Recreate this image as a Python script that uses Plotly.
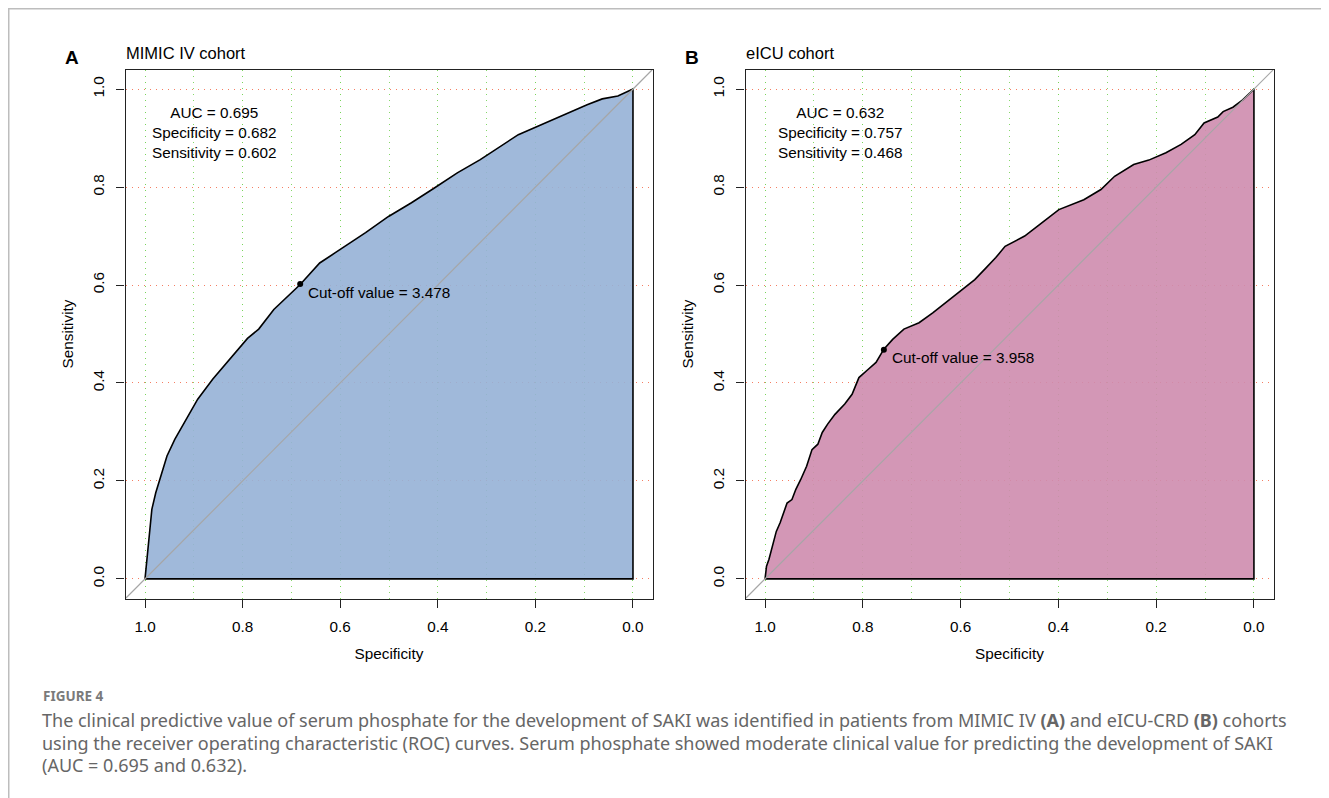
import plotly.graph_objects as go

# The page body has an 8px margin, so the figure is placed at (8, 8) in the window.
OFF = 8
W, H = 1329 - OFF, 798 - OFF


def px(x):
    return (x - OFF) / W


def py(y):
    return 1 - (y - OFF) / H


# ---------------- data ----------------
mimic_spec = [1.000, 0.997, 0.992, 0.986, 0.978, 0.966, 0.955, 0.939, 0.915, 0.892,
              0.861, 0.829, 0.798, 0.790, 0.767, 0.736, 0.682, 0.642, 0.610, 0.579,
              0.548, 0.501, 0.454, 0.407, 0.360, 0.313, 0.282, 0.235, 0.188, 0.141,
              0.094, 0.063, 0.031, 0.000]
mimic_sens = [0.000, 0.033, 0.087, 0.142, 0.176, 0.217, 0.251, 0.285, 0.326, 0.367,
              0.408, 0.445, 0.483, 0.491, 0.510, 0.550, 0.601, 0.645, 0.666, 0.686,
              0.707, 0.740, 0.768, 0.798, 0.829, 0.856, 0.876, 0.907, 0.927, 0.948,
              0.968, 0.980, 0.986, 1.000]

eicu_spec = [1.000, 0.997, 0.992, 0.987, 0.982, 0.977, 0.969, 0.962, 0.955, 0.945,
             0.937, 0.927, 0.915, 0.904, 0.892, 0.883, 0.872, 0.857, 0.837, 0.822,
             0.808, 0.790, 0.773, 0.757, 0.739, 0.716, 0.685, 0.657, 0.626, 0.595,
             0.571, 0.548, 0.528, 0.509, 0.469, 0.430, 0.399, 0.348, 0.313, 0.285,
             0.246, 0.215, 0.180, 0.149, 0.121, 0.102, 0.074, 0.063, 0.043, 0.023,
             0.008, 0.000]
eicu_sens = [0.000, 0.026, 0.040, 0.060, 0.080, 0.097, 0.115, 0.135, 0.155, 0.162,
             0.183, 0.203, 0.230, 0.264, 0.275, 0.299, 0.316, 0.336, 0.357, 0.377,
             0.411, 0.427, 0.442, 0.469, 0.489, 0.510, 0.523, 0.543, 0.567, 0.591,
             0.611, 0.635, 0.656, 0.679, 0.700, 0.730, 0.754, 0.774, 0.795, 0.822,
             0.846, 0.855, 0.870, 0.887, 0.907, 0.931, 0.943, 0.954, 0.963, 0.978,
             0.992, 1.000]

panels = [
    dict(letter="A", title="MIMIC IV cohort", spec=mimic_spec, sens=mimic_sens,
         auc=0.695, cut_spec=0.682, cut_sens=0.602, cutoff=3.478,
         fill="rgba(150,177,214,0.9)"),
    dict(letter="B", title="eICU cohort", spec=eicu_spec, sens=eicu_sens,
         auc=0.632, cut_spec=0.757, cut_sens=0.468, cutoff=3.958,
         fill="rgba(206,140,174,0.9)"),
]

x_ticks = [1.0, 0.8, 0.6, 0.4, 0.2, 0.0]
y_ticks = [0.0, 0.2, 0.4, 0.6, 0.8, 1.0]

caption_head = "FIGURE 4"
caption_lines = [
    "The clinical predictive value of serum phosphate for the development of SAKI was identified in patients from MIMIC IV <b>(A)</b> and eICU-CRD <b>(B)</b> cohorts",
    "using the receiver operating characteristic (ROC) curves. Serum phosphate showed moderate clinical value for predicting the development of SAKI",
    "(AUC = 0.695 and 0.632).",
]

# ---------------- layout geometry (window pixels) ----------------
FONT = "Liberation Sans, Arial, sans-serif"
FS = 15.3
boxes = [(125.5, 652.5), (745.5, 1273.5)]
box_top, box_bot = 69.5, 598.5
XR = [1.04, -0.04]
YR = [-0.04, 1.04]
GREEN = "rgba(120,212,90,0.9)"
RED = "rgba(244,112,82,0.9)"
DOT = "1.5px,4.5px"

fig = go.Figure()
layout = dict(
    width=W, height=H, margin=dict(l=0, r=0, t=0, b=0),
    paper_bgcolor="white", plot_bgcolor="white",
    showlegend=False, font=dict(family=FONT, size=FS, color="black"),
    annotations=[], shapes=[],
)

for i, p in enumerate(panels):
    n = "" if i == 0 else str(i + 1)
    xa, ya = "x" + n, "y" + n
    x0, x1 = boxes[i]
    axis_common = dict(
        showline=True, mirror=True, linecolor="#222", linewidth=1.4,
        ticks="outside", ticklen=8, tickwidth=1.2, tickcolor="#222",
        zeroline=False, showgrid=True, griddash=DOT, gridwidth=1.3,
        tickfont=dict(family=FONT, size=FS, color="black"),
    )
    layout["xaxis" + n] = dict(
        axis_common, domain=[px(x0), px(x1)], range=XR, anchor=ya,
        tickvals=x_ticks, ticktext=[f"{v:.1f}" for v in x_ticks],
        gridcolor=GREEN,
        minor=dict(dtick=0.1, tick0=0, showgrid=True, griddash=DOT,
                   gridcolor=GREEN, gridwidth=1.3, ticks=""),
        ticklabelstandoff=6,
        title=dict(text="Specificity", font=dict(family=FONT, size=FS), standoff=14),
    )
    layout["yaxis" + n] = dict(
        axis_common, domain=[py(box_bot), py(box_top)], range=YR, anchor=xa,
        tickvals=y_ticks, ticktext=[f"{v:.1f}" for v in y_ticks], tickangle=-90,
        gridcolor=RED,
        ticklabelstandoff=6,
        title=dict(text="Sensitivity", font=dict(family=FONT, size=FS), standoff=12),
    )

    # AUC polygon (curve + closing edges along sens=0 and spec=0)
    fig.add_trace(go.Scatter(
        x=p["spec"] + [0.0, 1.0], y=p["sens"] + [0.0, 0.0],
        mode="lines", fill="toself", fillcolor=p["fill"],
        line=dict(color="black", width=1.6), xaxis=xa, yaxis=ya, hoverinfo="skip"))
    # identity line across the whole frame
    fig.add_trace(go.Scatter(
        x=XR, y=[1 - v for v in XR], mode="lines",
        line=dict(color="#a6a6a6", width=1.2), xaxis=xa, yaxis=ya, hoverinfo="skip"))
    # cut-off point
    fig.add_trace(go.Scatter(
        x=[p["cut_spec"]], y=[p["cut_sens"]], mode="markers",
        marker=dict(color="black", size=6), xaxis=xa, yaxis=ya))

    # texts
    layout["annotations"] += [
        dict(text=f"Cut-off value = {p['cutoff']:.3f}", x=p["cut_spec"], y=p["cut_sens"],
             xref=xa, yref=ya, xanchor="left", yanchor="middle", showarrow=False,
             xshift=6, yshift=-8, font=dict(family=FONT, size=FS)),
        dict(text=f"AUC = {p['auc']:.3f}<br>Specificity = {p['cut_spec']:.3f}<br>Sensitivity = {p['cut_sens']:.3f}",
             x=px(x0 + 88.5 + (0 if i == 0 else 6)), y=py(133), xref="paper", yref="paper",
             xanchor="center", yanchor="middle", showarrow=False, align="center",
             font=dict(family=FONT, size=FS)),
        dict(text=p["title"], x=px(x0 - 2), y=py(53), xref="paper", yref="paper",
             xanchor="left", yanchor="middle", showarrow=False,
             font=dict(family=FONT, size=16.5)),
        dict(text=f"<b>{p['letter']}</b>", x=px(x0 - 53.5), y=py(57),
             xref="paper", yref="paper", xanchor="center", yanchor="middle",
             showarrow=False, font=dict(family=FONT, size=19)),
    ]

# caption
CAP_FONT = "Noto Sans, Open Sans, sans-serif"
layout["annotations"].append(dict(
    text=f"<b>{caption_head}</b>", x=px(41), y=py(696), xref="paper", yref="paper",
    xanchor="left", yanchor="middle", showarrow=False,
    font=dict(family=CAP_FONT, size=13.5, color="#7a7a7a")))
for k, line in enumerate(caption_lines):
    layout["annotations"].append(dict(
        text=line, x=px(40), y=py(720 + 22.5 * k), xref="paper", yref="paper",
        xanchor="left", yanchor="middle", showarrow=False,
        font=dict(family=CAP_FONT, size=18, color="#666666")))

# frame lines of the figure panel (top and left edge)
layout["shapes"] += [
    dict(type="line", xref="paper", yref="paper", x0=0, x1=1, y0=py(8.75), y1=py(8.75),
         line=dict(color="#bdbdbd", width=1.5)),
    dict(type="line", xref="paper", yref="paper", x0=px(8.75), x1=px(8.75), y0=0, y1=1,
         line=dict(color="#bdbdbd", width=1.5)),
]

fig.update_layout(**layout)
fig.write_html("out.html")
